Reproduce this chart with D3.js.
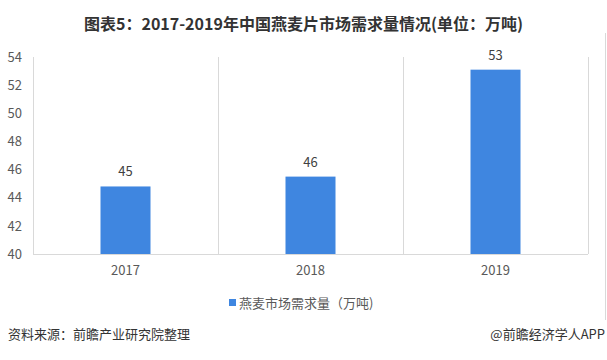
<!DOCTYPE html>
<html><head><meta charset="utf-8">
<script src="https://cdn.jsdelivr.net/npm/d3@7"></script>
<style>html,body{margin:0;padding:0;background:#fff;}svg{display:block;font-family:"Microsoft YaHei","Noto Sans CJK SC","Noto Sans",sans-serif;}</style>
</head><body>
<script>
const categories = ["2017", "2018", "2019"];
const values = [44.8, 45.5, 53.1];
const valueLabels = ["45", "46", "53"];
const yTicks = [40, 42, 44, 46, 48, 50, 52, 54];
const title = "图表5：2017-2019年中国燕麦片市场需求量情况(单位：万吨)";
const seriesName = "燕麦市场需求量（万吨)";
const source = "资料来源：前瞻产业研究院整理";
const brand = "@前瞻经济学人APP";

const W = 607, H = 360;
const m = {left: 33, right: 19, top: 57, bottom: 106};
const svg = d3.select("body").append("svg").attr("width", W).attr("height", H);

const x = d3.scaleBand().domain(categories).range([m.left, W - m.right]).paddingInner(0).paddingOuter(0);
const y = d3.scaleLinear().domain([40, 54]).range([H - m.bottom, m.top]);
const barW = 50;

// outer right frame line
svg.append("line").attr("x1", 605.5).attr("x2", 605.5).attr("y1", 33).attr("y2", 320)
  .attr("stroke", "#d9d9d9").attr("stroke-width", 1);

// title
svg.append("text").attr("x", W / 2).attr("y", 30).attr("text-anchor", "middle")
  .attr("font-size", 16).attr("font-weight", "bold").attr("fill", "#333").text(title);

// vertical grid lines at category boundaries
const bounds = categories.map(c => x(c)).concat([x(categories[categories.length - 1]) + x.bandwidth()]);
svg.append("g").selectAll("line").data(bounds).join("line")
  .attr("x1", d => Math.round(d) + 0.5).attr("x2", d => Math.round(d) + 0.5)
  .attr("y1", y(54)).attr("y2", y(40))
  .attr("stroke", "#d9d9d9").attr("stroke-width", 1);

// bottom axis line
svg.append("line").attr("x1", m.left).attr("x2", W - m.right)
  .attr("y1", Math.round(y(40)) + 0.5).attr("y2", Math.round(y(40)) + 0.5)
  .attr("stroke", "#d9d9d9");

// y axis labels
const yAxis = d3.axisLeft(y).tickValues(yTicks).tickSize(0).tickPadding(11);
const gy = svg.append("g").attr("transform", `translate(${m.left},0)`).call(yAxis);
gy.select(".domain").remove();
gy.selectAll("text").attr("font-size", 13).attr("fill", "#595959")
  .attr("font-family", "\"Microsoft YaHei\",\"Noto Sans CJK SC\",sans-serif");

// x axis labels
const xAxis = d3.axisBottom(x).tickSize(0).tickPadding(12);
const gx = svg.append("g").attr("transform", `translate(0,${y(40)})`).call(xAxis);
gx.select(".domain").remove();
gx.selectAll("text").attr("font-size", 13).attr("fill", "#595959")
  .attr("font-family", "\"Microsoft YaHei\",\"Noto Sans CJK SC\",sans-serif");

// bars
svg.append("g").selectAll("rect").data(values).join("rect")
  .attr("x", (d, i) => x(categories[i]) + x.bandwidth() / 2 - barW / 2)
  .attr("width", barW)
  .attr("y", d => y(d)).attr("height", d => y(40) - y(d))
  .attr("fill", "#3f86e0");

// value labels
svg.append("g").selectAll("text").data(values).join("text")
  .attr("x", (d, i) => x(categories[i]) + x.bandwidth() / 2)
  .attr("y", d => y(d) - 10)
  .attr("text-anchor", "middle").attr("font-size", 13).attr("fill", "#404040")
  .text((d, i) => valueLabels[i]);

// legend
svg.append("rect").attr("x", 229).attr("y", 299).attr("width", 7).attr("height", 7).attr("fill", "#3f86e0");
svg.append("text").attr("x", 239).attr("y", 308).attr("font-size", 13).attr("fill", "#595959").text(seriesName);

// footer
svg.append("text").attr("x", 8).attr("y", 339).attr("font-size", 13).attr("fill", "#333").text(source);
svg.append("text").attr("x", 605).attr("y", 339).attr("text-anchor", "end").attr("font-size", 13).attr("fill", "#333").text(brand);
</script>
</body></html>
